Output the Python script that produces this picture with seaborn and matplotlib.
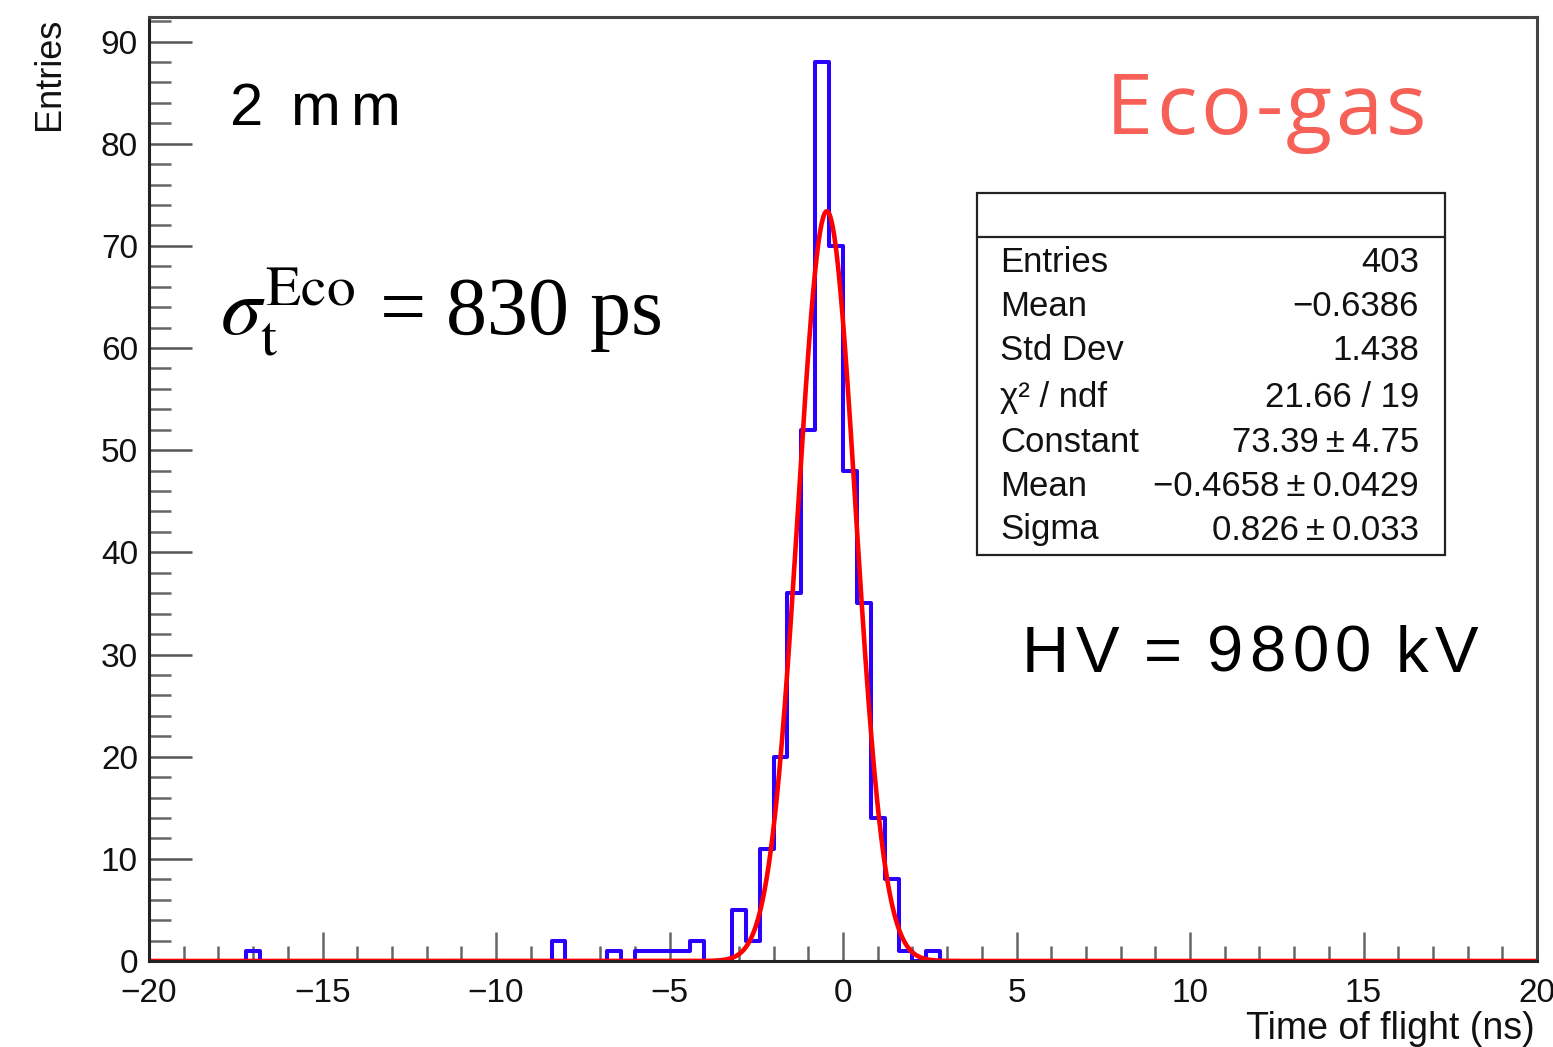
import numpy as np
import pandas as pd
import seaborn as sns
import matplotlib.pyplot as plt
from matplotlib.patches import Rectangle
from matplotlib.lines import Line2D
from matplotlib.ticker import MultipleLocator
from matplotlib import font_manager
from matplotlib.ft2font import FT2Font

# ---- histogram content (time of flight, 0.4 ns bins from -20 to 20 ns) ----
hist_range = (-20.0, 20.0)
bin_width = 0.4
bin_left = [-17.2, -8.4, -6.8, -6.0, -5.6, -5.2, -4.8, -4.4,
            -3.2, -2.8, -2.4, -2.0, -1.6, -1.2, -0.8, -0.4,
            0.0, 0.4, 0.8, 1.2, 1.6, 2.4]
counts = [1, 2, 1, 1, 1, 1, 1, 2,
          5, 2, 11, 20, 36, 52, 88, 70,
          48, 35, 14, 8, 1, 1]

# ---- gaussian fit result and statistics ----
fit_constant, fit_constant_err = 73.39, 4.75
fit_mean, fit_mean_err = -0.4658, 0.0429
fit_sigma, fit_sigma_err = 0.826, 0.033
n_entries = 403
hist_mean = -0.6386
hist_std = 1.438
chi2, ndf = 21.66, 19
resolution_ps = 830

W, H, DPI = 1553, 1047, 100

sns.set_style("ticks")
plt.rcParams["font.family"] = ["Liberation Sans", "DejaVu Sans"]
plt.rcParams["mathtext.fontset"] = "stix"
plt.rcParams["text.color"] = "black"

fig = plt.figure(figsize=(W / DPI, H / DPI), dpi=DPI)


def fx(px):
    return px / W


def fy(py):
    return 1 - py / H


ax_l, ax_r, ax_t, ax_b = 149, 1537, 17, 961
ax = fig.add_axes([fx(ax_l), fy(ax_b), (ax_r - ax_l) / W, (ax_b - ax_t) / H])

df = pd.DataFrame({"tof": np.array(bin_left) + bin_width / 2,
                   "n": np.array(counts, dtype=float)})
sns.histplot(data=df, x="tof", weights="n", binwidth=bin_width,
             binrange=hist_range, element="step", fill=False,
             color="#2a00ff", linewidth=2.9, ax=ax, zorder=2)

xfit = np.linspace(hist_range[0], hist_range[1], 2001)
yfit = fit_constant * np.exp(-0.5 * ((xfit - fit_mean) / fit_sigma) ** 2)
sns.lineplot(x=xfit, y=yfit, color="#ff0000", linewidth=3.3, ax=ax, zorder=2.2)

ax.set_xlim(*hist_range)
ax.set_ylim(0, 92.4)
ax.set_xlabel("")
ax.set_ylabel("")

ax.xaxis.set_major_locator(MultipleLocator(5))
ax.xaxis.set_minor_locator(MultipleLocator(1))
ax.yaxis.set_major_locator(MultipleLocator(10))
ax.yaxis.set_minor_locator(MultipleLocator(2))
ax.tick_params(axis="x", which="major", direction="in", length=21, width=1.8,
               color="#666666", labelsize=24, pad=12.5, labelcolor="#111111")
ax.tick_params(axis="x", which="minor", direction="in", length=11, width=1.8,
               color="#666666")
ax.tick_params(axis="y", which="major", direction="in", length=31, width=1.8,
               color="#555555", labelsize=24, pad=8, labelcolor="#111111")
ax.tick_params(axis="y", which="minor", direction="in", length=16, width=1.8,
               color="#666666")
for side, sp in ax.spines.items():
    sp.set_visible(True)
    sp.set_linewidth(2.2)
    sp.set_color("#222222" if side in ("left", "bottom") else "#444444")

# axis titles
fig.text(fx(50), fy(18), "Entries", rotation=90, ha="center", va="top",
         fontsize=26, color="#111111")
fig.text(fx(1535), fy(1039), "Time of flight (ns)", ha="right",
         va="baseline", fontsize=27, color="#111111")


def tracked_text(x_px, y_px, s, family, size, track, color):
    path = font_manager.findfont(font_manager.FontProperties(family=family))
    face = FT2Font(path)
    face.set_size(size, DPI)
    x = x_px
    for ch in s:
        if ch != " ":
            fig.text(fx(x), fy(y_px), ch, fontsize=size, family=family,
                     color=color, ha="left", va="baseline")
            x += face.load_char(ord(ch)).linearHoriAdvance / 65536 + track
        else:
            x += face.load_char(ord(ch)).linearHoriAdvance / 65536


tracked_text(230, 125, "2 mm", "Liberation Sans", 43, 10, "black")
tracked_text(1106, 134, "Eco-gas", "Open Sans", 61, 3.5, "#f66056")
tracked_text(1022, 672, "HV = 9800 kV", "Liberation Sans", 47, 6.5, "black")

fig.text(fx(220), fy(335),
         r"$\sigma_{\mathrm{t}}^{\mathrm{Eco}}$" + f" = {resolution_ps} ps",
         fontsize=59, family="Liberation Serif", ha="left", va="baseline",
         color="black")

# statistics box
box_l, box_r, box_t, box_b, head_b = 977, 1445, 193, 555, 237
fig.patches.append(Rectangle((fx(box_l), fy(box_b)), (box_r - box_l) / W,
                             (box_b - box_t) / H, transform=fig.transFigure,
                             facecolor="white", edgecolor="#222222",
                             linewidth=1.6, zorder=5))
fig.lines.append(Line2D([fx(box_l), fx(box_r)], [fy(head_b), fy(head_b)],
                        transform=fig.transFigure, color="#222222",
                        linewidth=1.6, zorder=6))

pm = "\u2009\u00b1\u2009"
stat_labels = ["Entries", "Mean", "Std Dev", "\u03c7\u00b2 / ndf", "Constant",
               "Mean", "Sigma"]
stat_values = [f"{n_entries}",
               f"{hist_mean:.4f}".replace("-", "\u2212"),
               f"{hist_std:.3f}",
               f"{chi2:.2f} / {ndf}",
               f"{fit_constant:.2f}{pm}{fit_constant_err:.2f}",
               f"{fit_mean:.4f}".replace("-", "\u2212") + f"{pm}{fit_mean_err:.4f}",
               f"{fit_sigma:.3f}{pm}{fit_sigma_err:.3f}"]
row_y = [262, 307, 350, 397, 442, 487, 530]
for lab, val, yy in zip(stat_labels, stat_values, row_y):
    fig.text(fx(1000), fy(yy), lab, ha="left", va="center", fontsize=25,
             color="#111111", zorder=7)
    fig.text(fx(1419), fy(yy), val, ha="right", va="center", fontsize=25,
             color="#111111", zorder=7)

fig.savefig("out.png", dpi=DPI)
